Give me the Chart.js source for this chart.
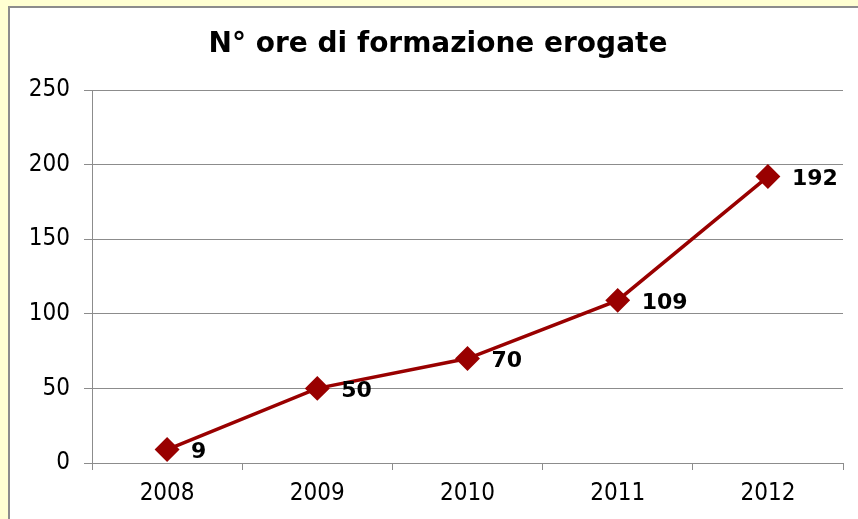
<!DOCTYPE html>
<html><head><meta charset="utf-8">
<script src="https://cdn.jsdelivr.net/npm/chart.js@4/dist/chart.umd.min.js"></script>
<style>
html,body{margin:0;padding:0;width:858px;height:519px;overflow:hidden;background:#FFFFD2;}
#box{position:absolute;left:8px;top:6px;width:900px;height:560px;background:#fff;border:2px solid #8c8c8c;box-sizing:border-box;}
#wrap{position:absolute;left:9px;top:0;width:858px;height:519px;}
</style></head>
<body>
<div id="box"></div>
<div id="wrap"><canvas id="c" width="858" height="519"></canvas></div>
<script>
const categories = ['2008','2009','2010','2011','2012'];
const values = [9, 50, 70, 109, 192];
const titleText = 'N° ore di formazione erogate';
const TICKFONT = "'DejaVu Sans Condensed', 'DejaVu Sans', sans-serif";
const BOLDFONT = "'DejaVu Sans', Verdana, sans-serif";

const labelPlugin = {
  id: 'pointLabels',
  afterLayout(chart) {
    if (chart.titleBlock) {
      chart.titleBlock.left = 0;
      chart.titleBlock.right = chart.width;
    }
  },
  afterDatasetsDraw(chart) {
    const ctx = chart.ctx;
    const meta = chart.getDatasetMeta(0);
    ctx.save();
    ctx.font = "bold 22px " + BOLDFONT;
    ctx.fillStyle = '#000';
    ctx.textAlign = 'left';
    ctx.textBaseline = 'middle';
    meta.data.forEach((pt, i) => {
      ctx.fillText(String(values[i]), pt.x + 24, pt.y + 3);
    });
    ctx.restore();
  }
};

new Chart(document.getElementById('c'), {
  type: 'line',
  data: {
    labels: categories,
    datasets: [{
      data: values,
      borderColor: '#990000',
      backgroundColor: '#990000',
      borderWidth: 3.5,
      pointStyle: 'rectRot',
      pointRadius: 10,
      pointHoverRadius: 10,
      pointBackgroundColor: '#990000',
      pointBorderColor: '#990000',
      tension: 0
    }]
  },
  options: {
    responsive: false,
    animation: false,
    events: [],
    layout: { padding: { left: 0, right: 24, top: 0, bottom: 0 } },
    plugins: {
      legend: { display: false },
      tooltip: { enabled: false },
      title: {
        display: true,
        text: titleText,
        color: '#000',
        font: { family: BOLDFONT, size: 28, weight: 'bold', lineHeight: 1.2 },
        padding: { top: 28, bottom: 28.4 }
      }
    },
    scales: {
      x: {
        offset: true,
        grid: { offset: true, drawOnChartArea: false, drawTicks: true, tickLength: 7, color: '#8c8c8c' },
        border: { color: '#8c8c8c', width: 1 },
        ticks: { color: '#000', font: { family: TICKFONT, size: 24 }, padding: 9, maxRotation: 0 },
        afterFit(s) { s.height = 56; }
      },
      y: {
        min: 0, max: 250,
        ticks: { stepSize: 50, color: '#000', font: { family: TICKFONT, size: 24 }, padding: 14 },
        grid: { color: '#8c8c8c', tickLength: 8, drawTicks: true },
        border: { color: '#8c8c8c', width: 1 },
        afterFit(s) { s.width = 83; }
      }
    }
  },
  plugins: [labelPlugin]
});
</script>
</body></html>
